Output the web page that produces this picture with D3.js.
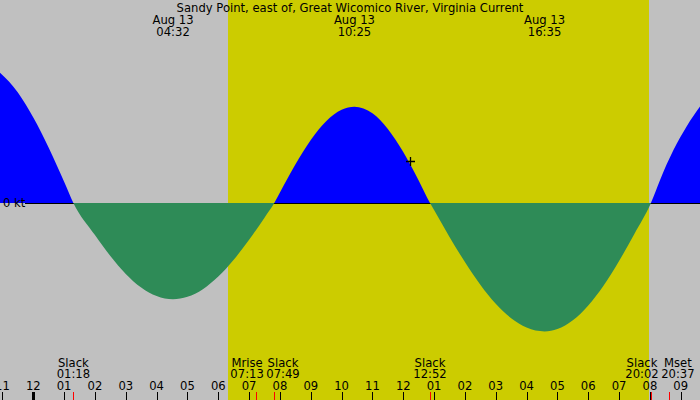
<!DOCTYPE html>
<html>
<head>
<meta charset="utf-8">
<script src="https://cdnjs.cloudflare.com/ajax/libs/d3/7.8.5/d3.min.js"></script>
<style>
body { margin: 0; background: #c0c0c0; }
svg { display: block; font-family: "DejaVu Sans", sans-serif; font-size: 11.6px; }
</style>
</head>
<body>
<svg width="700" height="400"></svg>
<script>
var title = 'Sandy Point, east of, Great Wicomico River, Virginia Current';

// current speed in knots (hours after midnight Aug 13)
var flow_hours = [-1.2, -0.5, 0, 0.5, 1.0, 1.3,
    2, 2.5, 3, 3.5, 4, 4.53, 5, 5.5, 6, 6.5, 7, 7.5, 7.817,
    8, 8.5, 9, 9.5, 10, 10.417, 11, 11.5, 12, 12.5, 12.867,
    13, 13.5, 14, 14.5, 15, 15.5, 16, 16.583, 17, 17.5, 18, 18.5, 19, 19.5, 20.033,
    20.33, 20.76, 21.2, 21.62, 21.8];
var flow_kt = [1.04, 0.86, 0.665, 0.43, 0.165, 0,
    -0.25, -0.413, -0.552, -0.658, -0.725, -0.75, -0.731, -0.671, -0.573, -0.442, -0.286, -0.114, 0,
    0.081, 0.299, 0.49, 0.637, 0.726, 0.75, 0.699, 0.577, 0.397, 0.176, 0,
    -0.055, -0.264, -0.46, -0.636, -0.785, -0.897, -0.97, -1.0, -0.982, -0.914, -0.798, -0.642, -0.452, -0.239, 0,
    0.18, 0.41, 0.6, 0.75, 0.81];

// max flood / ebb, labelled at the top
var peak_dates = ['Aug 13', 'Aug 13', 'Aug 13'];
var peak_times = ['04:32', '10:25', '16:35'];

// slack water and moon events, labelled at the bottom
var event_names = ['Slack', 'Mrise', 'Slack', 'Slack', 'Slack', 'Mset'];
var event_times = ['01:18', '07:13', '07:49', '12:52', '20:02', '20:37'];

var sunrise = '06:19';
var sunset = '19:58';

// hour ticks start at 23:00 Aug 12
var hour_first = -1;
var hour_labels = ['11', '12', '01', '02', '03', '04', '05', '06', '07', '08', '09', '10', '11',
    '12', '01', '02', '03', '04', '05', '06', '07', '08', '09'];

var now_time = '12:14';
var now_kt = 0.325;

function to_hours(t){
    var p = t.split(':');
    return Number(p[0]) + Number(p[1]) / 60;
}

var svg = d3.select('svg');
var width = 700, height = 400;

var x = d3.scaleLinear().domain([-1.08, 21.625]).range([0, width]);
var y = d3.scaleLinear().domain([-1, 1]).range([331.4, 74.6]);

var data = flow_hours.map(function(h, i){ return [h, flow_kt[i]]; });

// night / day background
svg.append('rect')
    .attr('width', width).attr('height', height)
    .attr('fill', '#c0c0c0');
svg.append('rect')
    .attr('x', x(to_hours(sunrise)))
    .attr('width', x(to_hours(sunset)) - x(to_hours(sunrise)))
    .attr('height', height)
    .attr('fill', '#cccc00')
    .style('shape-rendering', 'crispEdges');

// zero line
svg.append('line')
    .attr('x1', 25).attr('x2', width)
    .attr('y1', y(0) + 0.5).attr('y2', y(0) + 0.5)
    .attr('stroke', 'black');

// flood above zero, ebb below: same area, two clips
var defs = svg.append('defs');
defs.append('clipPath').attr('id', 'above')
    .append('rect').attr('width', width).attr('height', y(0));
defs.append('clipPath').attr('id', 'below')
    .append('rect').attr('y', y(0)).attr('width', width).attr('height', height - y(0));

var flow = d3.area()
    .curve(d3.curveMonotoneX)
    .x(function(d){ return x(d[0]); })
    .y0(y(0))
    .y1(function(d){ return y(d[1]); });

svg.append('path').datum(data).attr('d', flow)
    .attr('fill', '#0000ff').attr('clip-path', 'url(#above)');
svg.append('path').datum(data).attr('d', flow)
    .attr('fill', '#2e8b57').attr('clip-path', 'url(#below)');

svg.append('text')
    .attr('x', 3).attr('y', y(0) + 4)
    .text('0 kt');

// current time marker
var nx = Math.round(x(to_hours(now_time))) + 0.5;
var ny = Math.round(y(now_kt)) + 0.5;
svg.append('path')
    .attr('d', 'M' + (nx - 4.5) + ',' + ny + 'H' + (nx + 4.5) + 'M' + nx + ',' + (ny - 4.5) + 'V' + (ny + 4.5))
    .attr('stroke', 'black')
    .attr('stroke-width', 1.3);

// title and peaks
svg.append('text')
    .attr('x', width / 2).attr('y', 12)
    .attr('text-anchor', 'middle')
    .text(title);

var peaks = svg.selectAll('.peak').data(peak_times)
    .enter()
    .append('g')
        .attr('class', 'peak')
        .attr('transform', function(d){ return 'translate(' + x(to_hours(d)) + ',0)'; });
peaks.append('text')
    .attr('y', 24).attr('text-anchor', 'middle')
    .text(function(d, i){ return peak_dates[i]; });
peaks.append('text')
    .attr('y', 36).attr('text-anchor', 'middle')
    .text(function(d){ return d; });

// bottom event labels, pushed apart where they collide
var events = svg.selectAll('.event').data(event_times)
    .enter()
    .append('g')
        .attr('class', 'event');
events.append('text')
    .attr('class', 'ename')
    .attr('y', 366.5).attr('text-anchor', 'middle')
    .text(function(d, i){ return event_names[i]; });
events.append('text')
    .attr('class', 'etime')
    .attr('y', 378).attr('text-anchor', 'middle')
    .text(function(d){ return d; });

var centers = [], widths = [];
events.each(function(d){
    var g = d3.select(this);
    var w = Math.max(g.select('.ename').node().getComputedTextLength(),
        g.select('.etime').node().getComputedTextLength());
    centers.push(x(to_hours(d)));
    widths.push(w);
});
for (var i = 0; i < centers.length - 1; i++){
    var need = (widths[i] + widths[i + 1]) / 2 + 2.5;
    var gap = centers[i + 1] - centers[i];
    if (gap < need){
        centers[i] -= (need - gap) / 2;
        centers[i + 1] += (need - gap) / 2;
    }
}
events.attr('transform', function(d, i){ return 'translate(' + centers[i] + ',0)'; });

// hour axis
var hours = hour_labels.map(function(l, i){ return hour_first + i; });
svg.selectAll('.hlabel').data(hours)
    .enter()
    .append('text')
        .attr('class', 'hlabel')
        .attr('x', function(d){ return x(d); })
        .attr('y', 390)
        .attr('text-anchor', 'middle')
        .text(function(d, i){ return hour_labels[i]; });

svg.selectAll('.htick').data(hours)
    .enter()
    .append('rect')
        .attr('class', 'htick')
        .attr('x', function(d){ return d == 0 ? Math.round(x(d)) - 1.5 : Math.round(x(d)) - 0.5; })
        .attr('y', 392)
        .attr('width', function(d){ return d == 0 ? 3 : 1; })
        .attr('height', 8)
        .attr('fill', 'black')
        .style('shape-rendering', 'crispEdges');

svg.selectAll('.etick').data(event_times)
    .enter()
    .append('rect')
        .attr('class', 'etick')
        .attr('x', function(d){ return Math.round(x(to_hours(d))) - 0.5; })
        .attr('y', 392)
        .attr('width', 1)
        .attr('height', 8)
        .attr('fill', 'red')
        .style('shape-rendering', 'crispEdges');
</script>
</body>
</html>
